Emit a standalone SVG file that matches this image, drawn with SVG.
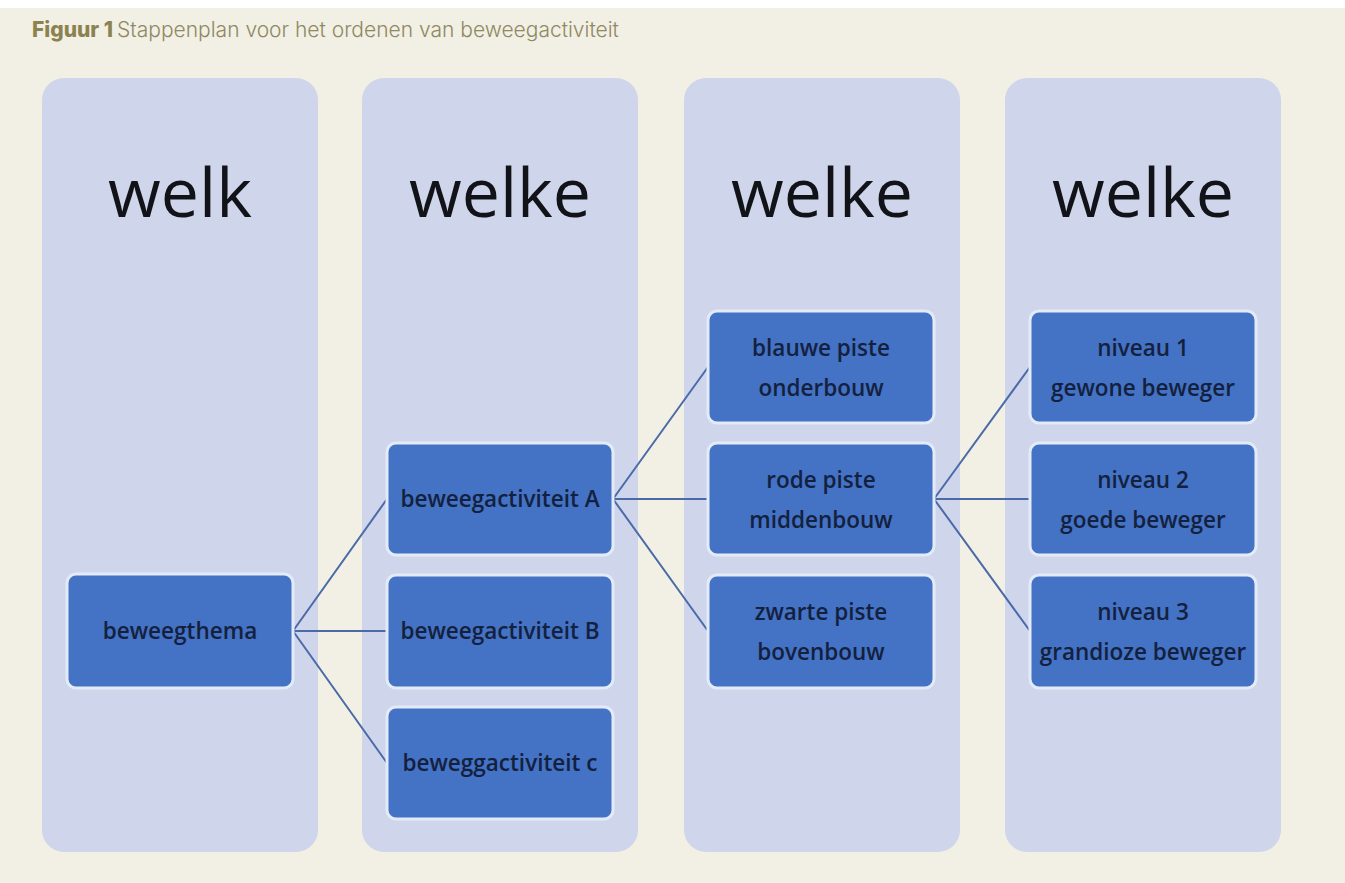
<svg xmlns="http://www.w3.org/2000/svg" width="1345" height="883" viewBox="0 0 1345 883">
<style>
.col{fill:#cfd5ea;}
.hd{font-family:"Open Sans","DejaVu Sans",sans-serif;font-size:68px;fill:#111318;text-anchor:middle;}
.nd{fill:#4472c4;stroke:#e4ebf8;stroke-width:3;}
.tx{font-family:"Open Sans","DejaVu Sans",sans-serif;font-size:22.5px;font-weight:600;fill:#13213f;text-anchor:middle;}
.cn{stroke:#4a6aa8;stroke-width:2;fill:none;}
</style>
<rect x="0" y="0" width="1345" height="883" fill="#f2efe4"/>
<rect x="0" y="0" width="1345" height="8" fill="#ffffff"/>
<text x="32" y="37" font-family="Inter,'Liberation Sans',sans-serif" font-size="21"><tspan font-weight="800" fill="#8a8350">Figuur 1</tspan><tspan font-weight="300" fill="#8e8962" dx="4">Stappenplan voor het ordenen van beweegactiviteit</tspan></text>
<g id="col1"><rect class="col" x="42" y="78" width="276" height="774" rx="22"/><text class="hd" x="180" y="217">welk</text></g>
<g id="col2"><rect class="col" x="362" y="78" width="276" height="774" rx="22"/><text class="hd" x="500" y="217">welke</text></g>
<g id="col3"><rect class="col" x="684" y="78" width="276" height="774" rx="22"/><text class="hd" x="822" y="217">welke</text></g>
<g id="col4"><rect class="col" x="1005" y="78" width="276" height="774" rx="22"/><text class="hd" x="1143" y="217">welke</text></g>
<g id="connectors">
<path class="cn" d="M293 631 L387 499 M293 631 L387 631 M293 631 L387 763"/>
<path class="cn" d="M613 499 L708 367 M613 499 L708 499 M613 499 L708 631"/>
<path class="cn" d="M934 499 L1030 367 M934 499 L1030 499 M934 499 L1030 631"/>
</g>
<g id="beweegthema"><rect class="nd" x="67" y="574" width="226" height="114" rx="9"/><text class="tx" x="180" y="639">beweegthema</text></g>
<g id="activiteitA"><rect class="nd" x="387" y="443" width="226" height="112" rx="9"/><text class="tx" x="500" y="507">beweegactiviteit A</text></g>
<g id="activiteitB"><rect class="nd" x="387" y="575" width="226" height="113" rx="9"/><text class="tx" x="500" y="639">beweegactiviteit B</text></g>
<g id="activiteitC"><rect class="nd" x="387" y="707" width="226" height="112" rx="9"/><text class="tx" x="500" y="771">beweggactiviteit c</text></g>
<g id="blauw"><rect class="nd" x="708" y="311" width="226" height="112" rx="9"/><text class="tx" x="821" y="356">blauwe piste</text><text class="tx" x="821" y="396">onderbouw</text></g>
<g id="rood"><rect class="nd" x="708" y="443" width="226" height="112" rx="9"/><text class="tx" x="821" y="488">rode piste</text><text class="tx" x="821" y="528">middenbouw</text></g>
<g id="zwart"><rect class="nd" x="708" y="575" width="226" height="113" rx="9"/><text class="tx" x="821" y="620">zwarte piste</text><text class="tx" x="821" y="660">bovenbouw</text></g>
<g id="niveau1"><rect class="nd" x="1030" y="311" width="226" height="112" rx="9"/><text class="tx" x="1143" y="356">niveau 1</text><text class="tx" x="1143" y="396">gewone beweger</text></g>
<g id="niveau2"><rect class="nd" x="1030" y="443" width="226" height="112" rx="9"/><text class="tx" x="1143" y="488">niveau 2</text><text class="tx" x="1143" y="528">goede beweger</text></g>
<g id="niveau3"><rect class="nd" x="1030" y="575" width="226" height="113" rx="9"/><text class="tx" x="1143" y="620">niveau 3</text><text class="tx" x="1143" y="660">grandioze beweger</text></g>
</svg>
